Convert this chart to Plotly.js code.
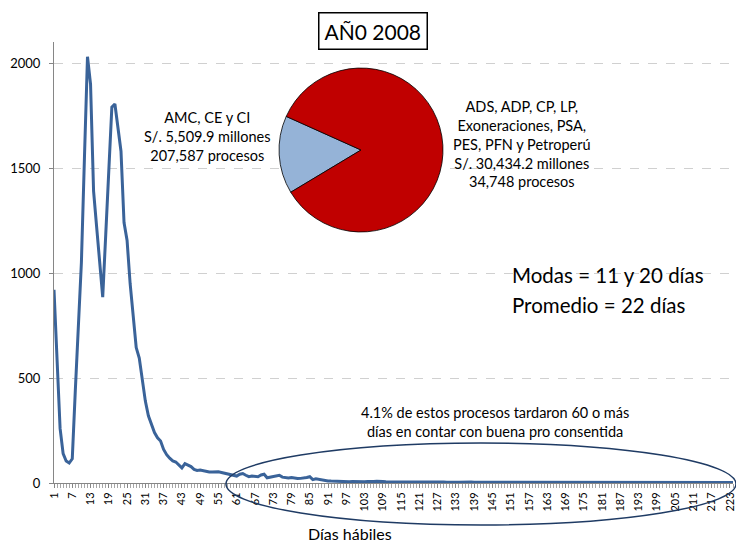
<!DOCTYPE html>
<html>
<head>
<meta charset="utf-8">
<script src="https://cdn.plot.ly/plotly-3.0.1.min.js"></script>
<style>
  html, body { margin: 0; padding: 0; background: #ffffff; }
  #chart { width: 736px; height: 543px; }
</style>
</head>
<body>
<div id="chart"></div>
<script>
// ---- Data ----
// Días hábiles 1..224 (category positions)
const firstDay = 1;
const lastDay = 224;
const tickLabels = [1, 7, 13, 19, 25, 31, 37, 43, 49, 55, 61, 67, 73, 79, 85, 91, 97, 103, 109, 115,
  121, 127, 133, 139, 145, 151, 157, 163, 169, 175, 181, 187, 193, 199, 205, 211, 217, 223];

// Number of processes per working day (days 1-224)
const procesos = [
  920, 580, 260, 140, 105, 95, 115, 440, 720, 1050,
  1550, 2030, 1900, 1390, 1220, 1050, 885, 1185, 1485, 1790,
  1805, 1680, 1580, 1240, 1155, 950, 790, 645, 595, 490,
  390, 320, 280, 240, 215, 200, 160, 135, 118, 105,
  100, 85, 72, 92, 85, 78, 65, 60, 62, 58,
  55, 52, 52, 54, 53, 50, 46, 42, 40, 35,
  33, 42, 45, 37, 30, 33, 33, 30, 38, 42,
  25, 28, 30, 35, 37, 28, 25, 24, 26, 22,
  21, 22, 23, 26, 30, 16, 20, 17, 14, 12,
  10, 9, 8,
  8, 7, 8, 7, 6, 7, 6, 7, 6, 6,
  7, 6, 7, 8, 9, 7, 6, 6, 5, 6,
  6, 5, 6, 5, 6, 6, 5, 5, 6, 5,
  5, 7, 8, 6, 5, 5, 4, 5, 5, 4,
  4, 5, 4, 4, 5, 4, 4, 3, 4, 4,
  4, 3, 4, 4, 3, 4, 5, 4, 3, 3,
  4, 3, 3, 4, 3, 3, 4, 3, 3, 4,
  3, 3, 4, 3, 3, 3, 4, 3, 3, 4,
  3, 3, 5, 3, 3, 3, 4, 3, 3, 3,
  3, 3, 3, 4, 3, 3, 3, 4, 3, 3,
  3, 3, 3, 3, 5, 3, 3, 3, 3, 3,
  3, 3, 3, 5, 3, 2, 3, 2, 3, 3,
  2, 3, 2, 3, 2, 2, 3, 2, 2, 3,
  2
];

const yTicks = [0, 500, 1000, 1500, 2000];

// Pie: amounts in millions of soles
const pieLabels = ['AMC, CE y CI', 'ADS, ADP, CP, LP, Exoneraciones, PSA, PES, PFN y Petroperú'];
const pieValues = [5509.9, 30434.2];
const pieColors = ['#95B3D7', '#C00000'];

const dias = [];
for (let d = firstDay; d <= lastDay; d++) dias.push(d);

const FONT = 'Lato, "Open Sans", sans-serif';

const lineTrace = {
  type: 'scatter',
  mode: 'lines',
  x: dias,
  y: procesos,
  line: { color: '#3A6399', width: 3 },
  hoverinfo: 'x+y',
  showlegend: false
};

const pieTrace = {
  type: 'pie',
  labels: pieLabels,
  values: pieValues,
  marker: { colors: pieColors, line: { color: '#000000', width: 0.8 } },
  sort: false,
  direction: 'clockwise',
  rotation: 239,
  textinfo: 'none',
  hoverinfo: 'label+value',
  showlegend: false,
  domain: { x: [0.3314, 0.5729], y: [0.5692, 0.9410] }
};

const layout = {
  width: 736,
  height: 543,
  margin: { l: 54, r: 3, t: 42, b: 60 },
  paper_bgcolor: '#ffffff',
  plot_bgcolor: '#ffffff',
  showlegend: false,
  font: { family: FONT, color: '#000000' },
  xaxis: {
    range: [firstDay, lastDay],
    tickmode: 'array',
    tickvals: tickLabels,
    ticktext: tickLabels.map(String),
    tickangle: -90,
    tickfont: { size: 11, family: FONT, color: '#000000' },
    ticks: 'outside',
    ticklen: 4,
    tickcolor: '#868686',
    showgrid: false,
    zeroline: false,
    showline: true,
    linecolor: '#868686',
    linewidth: 1,
    minor: { tickmode: 'linear', tick0: 1, dtick: 1, ticks: 'outside', ticklen: 4, tickcolor: '#A6A6A6', showgrid: false },
    fixedrange: true
  },
  yaxis: {
    range: [0, 2100],
    tickmode: 'array',
    tickvals: yTicks,
    ticktext: yTicks.map(String),
    tickfont: { size: 13, family: FONT, color: '#000000' },
    ticks: 'outside',
    ticklen: 4,
    tickcolor: '#868686',
    ticklabelstandoff: 6,
    showgrid: true,
    gridcolor: '#D0D0D0',
    griddash: 'dash',
    gridwidth: 1,
    zeroline: false,
    showline: true,
    linecolor: '#868686',
    linewidth: 1,
    fixedrange: true
  },
  shapes: [
    {
      type: 'circle', xref: 'paper', yref: 'paper',
      x0: 0.2533, x1: 1.0044, y0: -0.0952, y1: 0.0907,
      line: { color: '#1F3B64', width: 1.5 },
      fillcolor: 'rgba(0,0,0,0)'
    }
  ],
  annotations: [
    {
      text: 'AÑ0 2008', xref: 'paper', yref: 'paper', x: 0.4698, y: 1.0249,
      xanchor: 'center', yanchor: 'middle', showarrow: false,
      font: { size: 21, family: FONT, color: '#000000' },
      bordercolor: '#000000', borderwidth: 1.5, borderpad: 5, bgcolor: '#ffffff'
    },
    {
      text: 'AMC, CE y CI<br>S/. 5,509.9 millones<br>207,587 procesos',
      xref: 'paper', yref: 'paper', x: 0.2268, y: 0.7868,
      xanchor: 'center', yanchor: 'middle', align: 'center', showarrow: false,
      font: { size: 14.5, family: FONT, color: '#000000' }
    },
    {
      text: 'ADS, ADP, CP, LP,<br>Exoneraciones, PSA,<br>PES, PFN y Petroperú<br>S/. 30,434.2 millones<br>34,748 procesos',
      xref: 'paper', yref: 'paper', x: 0.6892, y: 0.7687,
      xanchor: 'center', yanchor: 'middle', align: 'center', showarrow: false,
      font: { size: 14.5, family: FONT, color: '#000000' }
    },
    {
      text: 'Modas = 11 y 20 días',
      xref: 'paper', yref: 'paper', x: 0.6716, y: 0.4717,
      xanchor: 'left', yanchor: 'middle', align: 'left', showarrow: false,
      font: { size: 20.5, family: FONT, color: '#000000' }
    },
    {
      text: 'Promedio = 22 días',
      xref: 'paper', yref: 'paper', x: 0.6716, y: 0.4036,
      xanchor: 'left', yanchor: 'middle', align: 'left', showarrow: false,
      font: { size: 20.5, family: FONT, color: '#000000' }
    },
    {
      text: '4.1% de estos procesos tardaron 60 o más<br>días en contar con buena pro consentida',
      xref: 'paper', yref: 'paper', x: 0.6495, y: 0.1383,
      xanchor: 'center', yanchor: 'middle', align: 'center', showarrow: false,
      font: { size: 14.5, family: FONT, color: '#000000' }
    },
    {
      text: 'Días hábiles',
      xref: 'paper', yref: 'paper', x: 0.436, y: -0.1156,
      xanchor: 'center', yanchor: 'middle', showarrow: false,
      font: { size: 16, family: FONT, color: '#000000' }
    }
  ]
};

Plotly.newPlot('chart', [lineTrace, pieTrace], layout, { displayModeBar: false, staticPlot: true });
</script>
</body>
</html>
